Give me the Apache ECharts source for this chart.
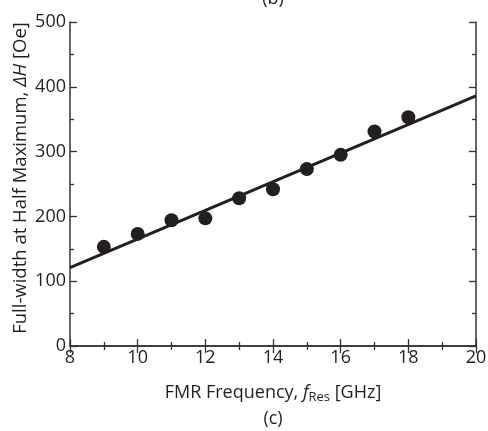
<!DOCTYPE html>
<html><head><meta charset="utf-8">
<script src="https://cdn.jsdelivr.net/npm/echarts@6/dist/echarts.min.js"></script>
<style>html,body{margin:0;padding:0;background:#fff}#c{width:488px;height:431px}</style>
</head><body><div id="c"></div>
<script>
const freq = [9, 10, 11, 12, 13, 14, 15, 16, 17, 18];
const linewidth = [153, 173, 194, 197, 228, 242, 273, 295, 331, 353];
const fitX = [8, 20];
const fitY = [121, 386];
const xTicks = [8, 10, 12, 14, 16, 18, 20];
const yTicks = [0, 100, 200, 300, 400, 500];

const FONT = 'Open Sans';
const TXT = '#231f20';
const AX = '#333333';
const chart = echarts.init(document.getElementById('c'), null, {renderer: 'canvas'});
const axLine = {show: true, lineStyle: {color: AX, width: 1.5}};
const tickIn = {show: true, inside: false, length: -7, lineStyle: {color: AX, width: 1.3}};
const minorIn = {show: true, splitNumber: 2, length: -4, lineStyle: {color: AX, width: 1.3}};
chart.setOption({
  animation: false,
  grid: {left: 70, right: 12, top: 22, bottom: 85, containLabel: false, outerBoundsMode: 'none'},
  graphic: [
    {type: 'text', x: 273, y: -1, style: {text: '(b)', font: '18px "Open Sans"', fill: TXT, align: 'center', verticalAlign: 'middle'}},
    {type: 'text', x: 273, y: 419, style: {text: '(c)', font: '18px "Open Sans"', fill: TXT, align: 'center', verticalAlign: 'middle'}}
  ],
  xAxis: [{
    type: 'value', min: xTicks[0], max: xTicks[xTicks.length-1], interval: 2,
    axisLine: axLine, axisTick: tickIn, minorTick: Object.assign({}, minorIn),
    splitLine: {show: false}, nameMoveOverlap: false,
    axisLabel: {fontFamily: FONT, fontSize: 18, color: TXT, margin: 3},
    name: 'FMR Frequency, {i|f}{s|Res} [GHz]', nameLocation: 'middle', nameGap: 36,
    nameTextStyle: {fontFamily: FONT, fontSize: 18, color: TXT,
      rich: {i: {fontFamily: FONT, fontSize: 18, fontStyle: 'italic', color: TXT},
             s: {fontFamily: FONT, fontSize: 13, color: TXT, padding: [9, 0, 0, 0]}}}
  }, {
    type: 'value', position: 'top', min: xTicks[0], max: xTicks[xTicks.length-1], interval: 2,
    axisLine: axLine, axisTick: tickIn, minorTick: Object.assign({}, minorIn),
    splitLine: {show: false}, axisLabel: {show: false}
  }],
  yAxis: [{
    type: 'value', min: yTicks[0], max: yTicks[yTicks.length-1], interval: 100,
    axisLine: axLine, axisTick: tickIn, minorTick: Object.assign({}, minorIn),
    splitLine: {show: false}, nameMoveOverlap: false,
    axisLabel: {fontFamily: FONT, fontSize: 18, color: TXT, margin: 4},
    name: 'Full-width at Half Maximum, {i|ΔH} [Oe]', nameLocation: 'middle', nameGap: 40,
    nameTextStyle: {fontFamily: FONT, fontSize: 18.5, color: TXT, padding: [0, 0, 0, 12],
      rich: {i: {fontFamily: FONT, fontSize: 18.5, fontStyle: 'italic', color: TXT}}}
  }, {
    type: 'value', position: 'right', min: yTicks[0], max: yTicks[yTicks.length-1], interval: 100,
    axisLine: axLine, axisTick: tickIn, minorTick: Object.assign({}, minorIn),
    splitLine: {show: false}, axisLabel: {show: false}
  }],
  series: [{
    type: 'line', data: fitX.map((x, i) => [x, fitY[i]]), showSymbol: false, symbol: 'none',
    lineStyle: {color: TXT, width: 3}, z: 2
  }, {
    type: 'scatter', data: freq.map((x, i) => [x, linewidth[i]]), symbol: 'circle', symbolSize: 14,
    itemStyle: {color: TXT, opacity: 1}, z: 3
  }]
});
</script></body></html>
